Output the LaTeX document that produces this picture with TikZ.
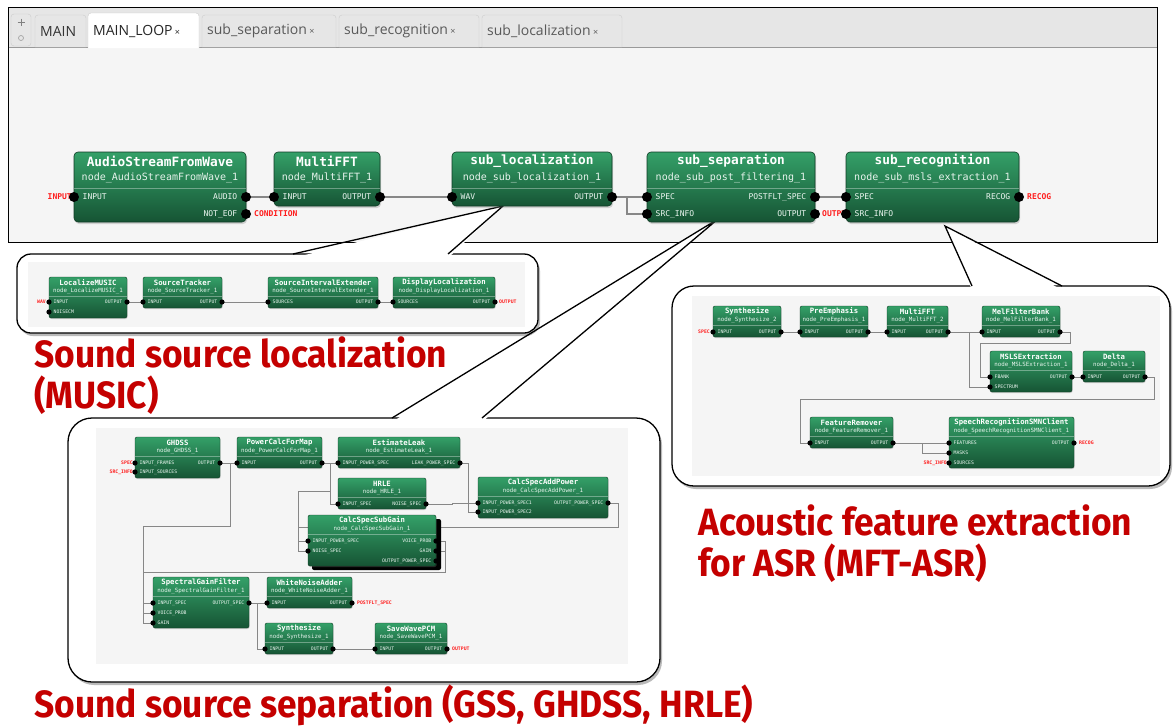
\documentclass[tikz,border=0pt]{standalone}
\usepackage{fontspec}
\setmainfont{DejaVu Sans}
\newfontfamily\monofont{DejaVu Sans Mono}
\newfontfamily\tabfont{Open Sans}
\newfontfamily\capfont{Fira Sans}[FakeStretch=0.93]
\usetikzlibrary{shadows}

\definecolor{hgtop}{RGB}{52,160,104}
\definecolor{hgbot}{RGB}{22,84,52}
\definecolor{hwire}{RGB}{135,135,135}
\definecolor{hred}{RGB}{255,30,30}
\definecolor{capred}{RGB}{196,0,0}
\definecolor{canvasgray}{RGB}{245,245,245}
\definecolor{tabgray}{RGB}{230,230,230}

\pgfdeclarelayer{frames}
\pgfdeclarelayer{wires}
\pgfsetlayers{frames,wires,main}

% offsets of the header line and port dot radius, per block size
\newcommand{\sepbig}{36pt}
\newcommand{\sepsmall}{19.5pt}
\newcommand{\dotbig}{5pt}
\newcommand{\dotsmall}{2.6pt}
\newcommand{\tabx}{{\fontsize{9}{9}\selectfont ×}}

\tikzset{
  block/.style={draw=hgbot!70!black, top color=hgtop, bottom color=hgbot, inner sep=0pt, outer sep=0pt},
  block big/.style={block, rounded corners=4pt, line width=0.6pt,
    drop shadow={shadow xshift=1pt, shadow yshift=-2pt, opacity=0.3}},
  block small/.style={block, rounded corners=2pt, line width=0.4pt,
    drop shadow={shadow xshift=0.6pt, shadow yshift=-1pt, opacity=0.3}},
  ttl big/.style={font=\monofont\bfseries\fontsize{12.8}{14}\selectfont, text=white, inner sep=0pt, yshift=-9pt},
  sub big/.style={font=\monofont\fontsize{10}{11}\selectfont, text=white!88!hgtop, inner sep=0pt, yshift=-26pt},
  ttl small/.style={font=\monofont\bfseries\fontsize{7.3}{8}\selectfont, text=white, inner sep=0pt, yshift=-5.5pt},
  sub small/.style={font=\monofont\fontsize{5.8}{6}\selectfont, text=white!88!hgtop, inner sep=0pt, yshift=-14pt},
  plbl big/.style={font=\monofont\fontsize{8}{9}\selectfont, text=white!90!hgtop, inner sep=0pt},
  plbl small/.style={font=\monofont\fontsize{4.8}{5}\selectfont, text=white!90!hgtop, inner sep=0pt},
  inlbl big/.style={plbl big, anchor=west, xshift=8.5pt},
  outlbl big/.style={plbl big, anchor=east, xshift=-8.5pt},
  inlbl small/.style={plbl small, anchor=west, xshift=4.5pt},
  outlbl small/.style={plbl small, anchor=east, xshift=-4.5pt},
  ext big/.style={font=\monofont\bfseries\fontsize{8}{9}\selectfont, text=hred, inner sep=0pt},
  ext small/.style={font=\monofont\bfseries\fontsize{4.8}{5}\selectfont, text=hred, inner sep=0pt},
  wire/.style={draw=hwire, line width=1.8pt},
  wire small/.style={draw=hwire, line width=0.8pt},
  inset/.style={draw=black, line width=1.3pt, fill=white,
    drop shadow={shadow xshift=2pt, shadow yshift=-3pt, opacity=0.45, fill=black!60}},
  tabbox/.style={draw=black!20, fill=tabgray, rounded corners=3pt},
  tablbl/.style={font=\tabfont\fontsize{14}{16}\selectfont, anchor=west, inner sep=0pt, text=black!65},
  caption/.style={font=\capfont\bfseries\fontsize{38}{41}\selectfont, text=capred, align=left, anchor=north west, inner sep=0pt},
}

% block: name, x, y, width, height, title, subtitle, size
\newcommand{\hblock}[8]{%
  \node[block #8, anchor=north west, minimum width=#4pt, minimum height=#5pt] (#1) at (#2,#3) {};
  \node[ttl #8] at (#1.north) {#6};
  \node[sub #8] at (#1.north) {#7};
  \draw[white, opacity=0.35, line width=0.5pt] ([yshift=-\csname sep#8\endcsname]#1.north west) -- ([yshift=-\csname sep#8\endcsname]#1.north east);
}
% port: name, x, y, label, in/out, size
\newcommand{\hport}[6]{%
  \coordinate (#1) at (#2,#3);
  \node[#5 #6] at (#1) {#4};
  \fill (#1) circle (\csname dot#6\endcsname);
}

\begin{document}
\begin{tikzpicture}[x=1pt,y=-1pt]
\useasboundingbox (0,0) rectangle (1176,726);

\begin{pgfonlayer}{frames}
  \fill[white] (0,0) rectangle (1176,726);
  % editor window
  \draw[line width=1pt, fill=white] (8,7) rectangle (1157,242);
  \fill[tabgray] (8.5,7.5) rectangle (1156.5,47);
  \fill[canvasgray] (8.5,48) rectangle (1156.5,241.5);
  \draw[black!40] (8.5,47.5) -- (1156.5,47.5);
  \filldraw[tabbox] (11,14) rectangle (31,46);
  \draw[black!50, line width=1pt] (17.5,22) -- (24.5,22) (21,18.5) -- (21,25.5);
  \draw[black!35, line width=0.7pt] (21,38) circle (2.5pt);
  % tabs
  \filldraw[tabbox] (35,47) |- (86,15) -- (86,47);
  \filldraw[tabbox, fill=white] (88,48) |- (199,13) -- (199,48);
  \filldraw[tabbox] (202,47) |- (336,15) -- (336,47);
  \filldraw[tabbox] (339,47) |- (479,15) -- (479,47);
  \filldraw[tabbox] (482,47) |- (622,15) -- (622,47);
  \node[tablbl, text=black!80] (tabMain) at (40,31) {MAIN};
  \node[tablbl, text=black!85] (tabLoop) at (93,31) {MAIN\_LOOP\,\tabx};
  \node[tablbl] (tabSep) at (207,31) {sub\_separation\,\tabx};
  \node[tablbl] (tabRec) at (344,31) {sub\_recognition\,\tabx};
  \node[tablbl] (tabLoc) at (487,31) {sub\_localization\,\tabx};

  % localization inset
  \draw[inset, rounded corners=14pt] (17,254) rectangle (538,333);
  \fill[canvasgray] (28,262) rectangle (525,327);
  \fill[white] (503,206) -- (293,258) -- (448,258) -- cycle;
  \draw[line width=1.3pt] (293,254) -- (503,206) -- (448,254);

  % separation inset
  \draw[inset, rounded corners=24pt] (68,418) rectangle (660,682);
  \fill[canvasgray] (96,428) rectangle (628,664);
  \fill[white] (718,219) -- (392,422) -- (482,422) -- cycle;
  \draw[line width=1.3pt] (392,418) -- (718,219) -- (482,418);

  % recognition inset
  \draw[inset, rounded corners=22pt] (672,286) rectangle (1170,486);
  \fill[canvasgray] (692,296) rectangle (1160,476);
  \fill[white] (945,226) -- (972,290) -- (1062,290) -- cycle;
  \draw[line width=1.3pt] (972,286) -- (945,226) -- (1062,286);
\end{pgfonlayer}

%% MAIN_LOOP
\hblock{asfw}{74}{152}{172}{70}{AudioStreamFromWave}{node\_AudioStreamFromWave\_1}{big}
\node[ext big, anchor=east] (asfwIn) at (72,197) {INPUT};
\hport{asfw-in}{74}{197}{INPUT}{inlbl}{big}
\hport{asfw-audio}{246}{197}{AUDIO}{outlbl}{big}
\hport{asfw-eof}{246}{214}{NOT\_EOF}{outlbl}{big}
\node[ext big, anchor=west] (asfwCond) at (254,214) {CONDITION};

\hblock{mfft}{274}{152}{106}{54}{MultiFFT}{node\_MultiFFT\_1}{big}
\hport{mfft-in}{274}{197}{INPUT}{inlbl}{big}
\hport{mfft-out}{380}{197}{OUTPUT}{outlbl}{big}

\hblock{sloc}{452}{152}{160}{54}{sub\_localization}{node\_sub\_localization\_1}{big}
\hport{sloc-wav}{452}{197}{WAV}{inlbl}{big}
\hport{sloc-out}{612}{197}{OUTPUT}{outlbl}{big}

\hblock{ssep}{647}{152}{168}{70}{sub\_separation}{node\_sub\_post\_filtering\_1}{big}
\hport{ssep-spec}{647}{197}{SPEC}{inlbl}{big}
\hport{ssep-src}{647}{214}{SRC\_INFO}{inlbl}{big}
\hport{ssep-post}{815}{197}{POSTFLT\_SPEC}{outlbl}{big}
\hport{ssep-out}{815}{214}{OUTPUT}{outlbl}{big}
\node[ext big, anchor=west] (ssepOut) at (822,214) {OUTPUT};

\hblock{srec}{846}{152}{173}{70}{sub\_recognition}{node\_sub\_msls\_extraction\_1}{big}
\hport{srec-spec}{846}{197}{SPEC}{inlbl}{big}
\hport{srec-src}{846}{214}{SRC\_INFO}{inlbl}{big}
\hport{srec-recog}{1019}{197}{RECOG}{outlbl}{big}
\node[ext big, anchor=west] (srecOut) at (1027,197) {RECOG};

%% sub_localization
\node[ext small, anchor=east] (locIn) at (46,302) {WAV};
\hblock{lmusic}{49}{277}{78}{41}{LocalizeMUSIC}{node\_LocalizeMUSIC\_1}{small}
\hport{lmusic-in}{49}{302}{INPUT}{inlbl}{small}
\hport{lmusic-ncm}{49}{312}{NOISECM}{inlbl}{small}
\hport{lmusic-out}{127}{302}{OUTPUT}{outlbl}{small}

\hblock{strk}{143}{277}{79}{31}{SourceTracker}{node\_SourceTracker\_1}{small}
\hport{strk-in}{143}{302}{INPUT}{inlbl}{small}
\hport{strk-out}{222}{302}{OUTPUT}{outlbl}{small}

\hblock{sie}{268}{277}{110}{31}{SourceIntervalExtender}{node\_SourceIntervalExtender\_1}{small}
\hport{sie-in}{268}{302}{SOURCES}{inlbl}{small}
\hport{sie-out}{378}{302}{OUTPUT}{outlbl}{small}

\hblock{dloc}{393}{277}{102}{31}{DisplayLocalization}{node\_DisplayLocalization\_1}{small}
\hport{dloc-in}{393}{302}{SOURCES}{inlbl}{small}
\hport{dloc-out}{495}{302}{OUTPUT}{outlbl}{small}
\node[ext small, anchor=west] (locOut) at (499,302) {OUTPUT};

%% sub_separation
\node[ext small, anchor=east] (sepIn) at (133,463) {SPEC};
\node[ext small, anchor=east] (sepSrc) at (133,472) {SRC\_INFO};
\hblock{ghdss}{135}{437}{85}{41}{GHDSS}{node\_GHDSS\_1}{small}
\hport{ghdss-frames}{135}{463}{INPUT\_FRAMES}{inlbl}{small}
\hport{ghdss-src}{135}{472}{INPUT\_SOURCES}{inlbl}{small}
\hport{ghdss-out}{220}{463}{OUTPUT}{outlbl}{small}

\hblock{pcfm}{237}{437}{85}{31}{PowerCalcForMap}{node\_PowerCalcForMap\_1}{small}
\hport{pcfm-in}{237}{463}{INPUT}{inlbl}{small}
\hport{pcfm-out}{322}{463}{OUTPUT}{outlbl}{small}

\hblock{eleak}{338}{437}{122}{31}{EstimateLeak}{node\_EstimateLeak\_1}{small}
\hport{eleak-in}{338}{463}{INPUT\_POWER\_SPEC}{inlbl}{small}
\hport{eleak-out}{460}{463}{LEAK\_POWER\_SPEC}{outlbl}{small}

\hblock{hrle}{338}{478}{88}{31}{HRLE}{node\_HRLE\_1}{small}
\hport{hrle-in}{338}{504}{INPUT\_SPEC}{inlbl}{small}
\hport{hrle-out}{426}{504}{NOISE\_SPEC}{outlbl}{small}

\hblock{csap}{478}{477}{130}{41}{CalcSpecAddPower}{node\_CalcSpecAddPower\_1}{small}
\hport{csap-in1}{478}{503}{INPUT\_POWER\_SPEC1}{inlbl}{small}
\hport{csap-in2}{478}{512}{INPUT\_POWER\_SPEC2}{inlbl}{small}
\hport{csap-out}{608}{503}{OUTPUT\_POWER\_SPEC}{outlbl}{small}

% selected block, heavy shadow
\fill[black, rounded corners=2pt] (312,519) rectangle (441,570);
\hblock{cssg}{308}{515}{128}{51}{CalcSpecSubGain}{node\_CalcSpecSubGain\_1}{small}
\hport{cssg-pow}{308}{541}{INPUT\_POWER\_SPEC}{inlbl}{small}
\hport{cssg-noise}{308}{551}{NOISE\_SPEC}{inlbl}{small}
\hport{cssg-voice}{436}{541}{VOICE\_PROB}{outlbl}{small}
\hport{cssg-gain}{436}{551}{GAIN}{outlbl}{small}
\hport{cssg-opow}{436}{561}{OUTPUT\_POWER\_SPEC}{outlbl}{small}

\hblock{sgf}{153}{577}{96}{51}{SpectralGainFilter}{node\_SpectralGainFilter\_1}{small}
\hport{sgf-in}{153}{603}{INPUT\_SPEC}{inlbl}{small}
\hport{sgf-voice}{153}{613}{VOICE\_PROB}{inlbl}{small}
\hport{sgf-gain}{153}{623}{GAIN}{inlbl}{small}
\hport{sgf-out}{249}{603}{OUTPUT\_SPEC}{outlbl}{small}

\hblock{wna}{267}{577}{85}{31}{WhiteNoiseAdder}{node\_WhiteNoiseAdder\_1}{small}
\hport{wna-in}{267}{603}{INPUT}{inlbl}{small}
\hport{wna-out}{352}{603}{OUTPUT}{outlbl}{small}
\node[ext small, anchor=west] (sepPost) at (357,603) {POSTFLT\_SPEC};

\hblock{syn}{265}{623}{68}{31}{Synthesize}{node\_Synthesize\_1}{small}
\hport{syn-in}{265}{649}{INPUT}{inlbl}{small}
\hport{syn-out}{333}{649}{OUTPUT}{outlbl}{small}

\hblock{swp}{375}{623}{72}{31}{SaveWavePCM}{node\_SaveWavePCM\_1}{small}
\hport{swp-in}{375}{649}{INPUT}{inlbl}{small}
\hport{swp-out}{447}{649}{OUTPUT}{outlbl}{small}
\node[ext small, anchor=west] (sepOut) at (452,649) {OUTPUT};

%% sub_recognition
\node[ext small, anchor=east] (recIn) at (710,332) {SPEC};
\hblock{syn2}{713}{306}{68}{31}{Synthesize}{node\_Synthesize\_2}{small}
\hport{syn2-in}{713}{332}{INPUT}{inlbl}{small}
\hport{syn2-out}{781}{332}{OUTPUT}{outlbl}{small}

\hblock{pre}{800}{306}{68}{31}{PreEmphasis}{node\_PreEmphasis\_1}{small}
\hport{pre-in}{800}{332}{INPUT}{inlbl}{small}
\hport{pre-out}{868}{332}{OUTPUT}{outlbl}{small}

\hblock{mfft2}{887}{306}{61}{31}{MultiFFT}{node\_MultiFFT\_2}{small}
\hport{mfft2-in}{887}{332}{INPUT}{inlbl}{small}
\hport{mfft2-out}{948}{332}{OUTPUT}{outlbl}{small}

\hblock{mfb}{982}{306}{78}{31}{MelFilterBank}{node\_MelFilterBank\_1}{small}
\hport{mfb-in}{982}{332}{INPUT}{inlbl}{small}
\hport{mfb-out}{1060}{332}{OUTPUT}{outlbl}{small}

\hblock{msls}{990}{351}{82}{41}{MSLSExtraction}{node\_MSLSExtraction\_1}{small}
\hport{msls-fbank}{990}{377}{FBANK}{inlbl}{small}
\hport{msls-spec}{990}{387}{SPECTRUM}{inlbl}{small}
\hport{msls-out}{1072}{377}{OUTPUT}{outlbl}{small}

\hblock{delta}{1083}{351}{62}{31}{Delta}{node\_Delta\_1}{small}
\hport{delta-in}{1083}{377}{INPUT}{inlbl}{small}
\hport{delta-out}{1145}{377}{OUTPUT}{outlbl}{small}

\hblock{frem}{810}{417}{83}{31}{FeatureRemover}{node\_FeatureRemover\_1}{small}
\hport{frem-in}{810}{443}{INPUT}{inlbl}{small}
\hport{frem-out}{893}{443}{OUTPUT}{outlbl}{small}

\node[ext small, anchor=east] (recSrc) at (947,463) {SRC\_INFO};
\hblock{smn}{949}{417}{125}{51}{SpeechRecognitionSMNClient}{node\_SpeechRecognitionSMNClient\_1}{small}
\hport{smn-feat}{949}{443}{FEATURES}{inlbl}{small}
\hport{smn-masks}{949}{453}{MASKS}{inlbl}{small}
\hport{smn-src}{949}{463}{SOURCES}{inlbl}{small}
\hport{smn-out}{1074}{443}{OUTPUT}{outlbl}{small}
\node[ext small, anchor=west] (recOut) at (1079,443) {RECOG};

% bend points of the longer wires
\coordinate (sgfBus) at (143,526);
\coordinate (gainBus) at (445,572);
\coordinate (gainBusL) at (143,572);
\coordinate (noiseBus) at (298,491);
\coordinate (powBus) at (298,527);
\coordinate (fbankBus) at (980,343);
\coordinate (featBus) at (800,399);

\begin{pgfonlayer}{wires}
  \draw[wire] (asfw-audio) -- (mfft-in);
  \draw[wire] (mfft-out) -- (sloc-wav);
  \draw[wire] (sloc-out) -- (ssep-spec);
  \draw[wire] (sloc-out) -- ++(15,0) |- (ssep-src);
  \draw[wire] (ssep-post) -- (srec-spec);

  \draw[wire small] (lmusic-out) -- (strk-in);
  \draw[wire small] (strk-out) -- (sie-in);
  \draw[wire small] (sie-out) -- (dloc-in);

  \draw[wire small] (ghdss-out) -- (pcfm-in);
  \draw[wire small] (ghdss-out) -- ++(10,0) |- (sgfBus) |- (sgf-in);
  \draw[wire small] (pcfm-out) -- (eleak-in);
  \draw[wire small] (pcfm-out) -- ++(8,0) |- (hrle-in);
  \draw[wire small] (pcfm-out) -- ++(8,0) |- (noiseBus) |- (cssg-noise);
  \draw[wire small] (csap-out) -- ++(10,0) |- (powBus) |- (cssg-pow);
  \draw[wire small] (eleak-out) -- ++(8,0) |- (csap-in2);
  \draw[wire small] (hrle-out) -- ++(26,0) |- (csap-in1);
  \draw[wire small] (cssg-voice) -| (gainBus) -- (gainBusL) |- (sgf-voice);
  \draw[wire small] (cssg-gain) -| (gainBus);
  \draw[wire small] (gainBusL) |- (sgf-gain);
  \draw[wire small] (sgf-out) -- (wna-in);
  \draw[wire small] (sgf-out) -- ++(8,0) |- (syn-in);
  \draw[wire small] (syn-out) -- (swp-in);

  \draw[wire small] (syn2-out) -- (pre-in);
  \draw[wire small] (pre-out) -- (mfft2-in);
  \draw[wire small] (mfft2-out) -- (mfb-in);
  \draw[wire small] (mfft2-out) -- ++(21,0) |- (msls-spec);
  \draw[wire small] (mfb-out) -- ++(10,0) |- (fbankBus) |- (msls-fbank);
  \draw[wire small] (msls-out) -- (delta-in);
  \draw[wire small] (delta-out) -- ++(9,0) |- (featBus) |- (frem-in);
  \draw[wire small] (frem-out) -- (smn-feat);
  \draw[wire small] (frem-out) -- ++(29,0) |- (smn-masks);
\end{pgfonlayer}

% captions
\node[caption] (capLoc) at (34,336) {Sound source localization\\(MUSIC)};
\node[caption] (capAsr) at (698,504) {Acoustic feature extraction\\for ASR (MFT-ASR)};
\node[caption] (capSep) at (34,685) {Sound source separation (GSS, GHDSS, HRLE)};
\end{tikzpicture}
\end{document}
